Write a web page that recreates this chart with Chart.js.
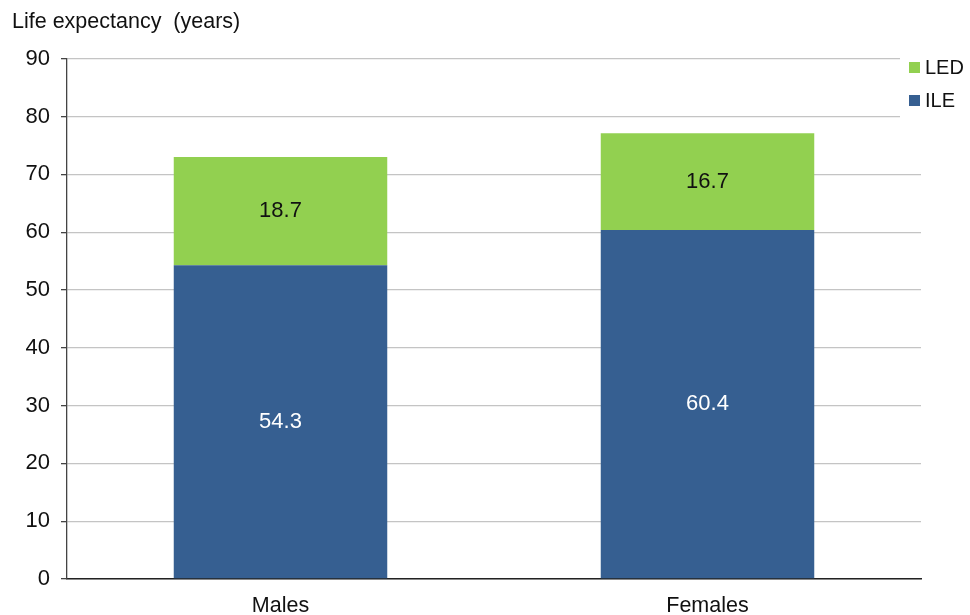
<!DOCTYPE html>
<html>
<head>
<meta charset="utf-8">
<script src="https://cdn.jsdelivr.net/npm/chart.js@4"></script>
<style>
  html, body { margin: 0; padding: 0; background: #fff; }
  #wrap { width: 970px; height: 615px; }
</style>
</head>
<body>
<div id="wrap"><canvas id="lifeChart"></canvas></div>
<script>
var groups = ['Males', 'Females'];
var ileValues = [54.3, 60.4];
var ledValues = [18.7, 16.7];
var yTicks = [0, 10, 20, 30, 40, 50, 60, 70, 80, 90];

var FONT = '"Liberation Sans", Arial, sans-serif';

// writes the value in the middle of every bar piece
var barValues = {
    id: 'barValues',
    afterDatasetsDraw: function (chart) {
        var ctx = chart.ctx;
        ctx.save();
        ctx.font = '22px ' + FONT;
        ctx.textAlign = 'center';
        ctx.textBaseline = 'middle';
        chart.data.datasets.forEach(function (ds, i) {
            chart.getDatasetMeta(i).data.forEach(function (bar, j) {
                var mid = (bar.y + bar.base) / 2;
                ctx.fillStyle = ds.labelColor;
                ctx.fillText(ds.data[j].toFixed(1), bar.x, mid);
            });
        });
        ctx.restore();
    }
};

// legend box on the right, LED on top
var sideLegend = {
    id: 'sideLegend',
    afterDraw: function (chart) {
        var ctx = chart.ctx;
        ctx.save();
        ctx.fillStyle = '#fff';
        ctx.fillRect(900, 50, 70, 68);
        ctx.font = '20px ' + FONT;
        ctx.textBaseline = 'middle';
        ctx.textAlign = 'left';
        var items = chart.data.datasets.slice().reverse();
        items.forEach(function (ds, k) {
            var y = 68 + k * 33;
            ctx.fillStyle = ds.backgroundColor;
            ctx.fillRect(909, y - 6, 11, 11);
            ctx.fillStyle = '#111';
            ctx.fillText(ds.label, 925, y);
        });
        ctx.restore();
    }
};

var data = {
    labels: groups,
    datasets: [{
        label: 'ILE',
        data: ileValues,
        backgroundColor: '#365f91',
        labelColor: '#ffffff',
        barPercentage: 0.5,
        categoryPercentage: 1
    }, {
        label: 'LED',
        data: ledValues,
        backgroundColor: '#92d050',
        labelColor: '#111111',
        barPercentage: 0.5,
        categoryPercentage: 1
    }]
};

var config = {
    type: 'bar',
    data: data,
    options: {
        responsive: true,
        maintainAspectRatio: false,
        animation: false,
        layout: { padding: { left: 12, right: 49, top: 0, bottom: 0 } },
        plugins: {
            legend: { display: false },
            tooltip: { enabled: false },
            title: {
                display: true,
                text: 'Life expectancy  (years)',
                align: 'start',
                color: '#111',
                font: { family: FONT, size: 21.5, weight: 'normal', lineHeight: 1.2 },
                padding: { top: 9, bottom: 24 }
            }
        },
        scales: {
            x: {
                stacked: true,
                grid: { display: false, drawTicks: false },
                border: { color: '#222', width: 1.5 },
                ticks: {
                    color: '#111',
                    padding: 16,
                    font: { family: FONT, size: 21.5, lineHeight: 1 }
                },
                afterFit: function (axis) { axis.height = 36; }
            },
            y: {
                stacked: true,
                min: 0,
                max: 90,
                afterBuildTicks: function (axis) {
                    axis.ticks = yTicks.map(function (v) { return { value: v }; });
                },
                afterFit: function (axis) { axis.width = 55; },
                grid: {
                    color: '#c4c4c4',
                    tickColor: '#444',
                    tickLength: 6,
                    lineWidth: 1.3
                },
                border: { color: '#444', width: 1.3 },
                ticks: {
                    color: '#111',
                    padding: 11,
                    font: { family: FONT, size: 22 }
                }
            }
        }
    },
    plugins: [barValues, sideLegend]
};

var lifeChart = new Chart(
    document.getElementById('lifeChart'),
    config
);
</script>
</body>
</html>
